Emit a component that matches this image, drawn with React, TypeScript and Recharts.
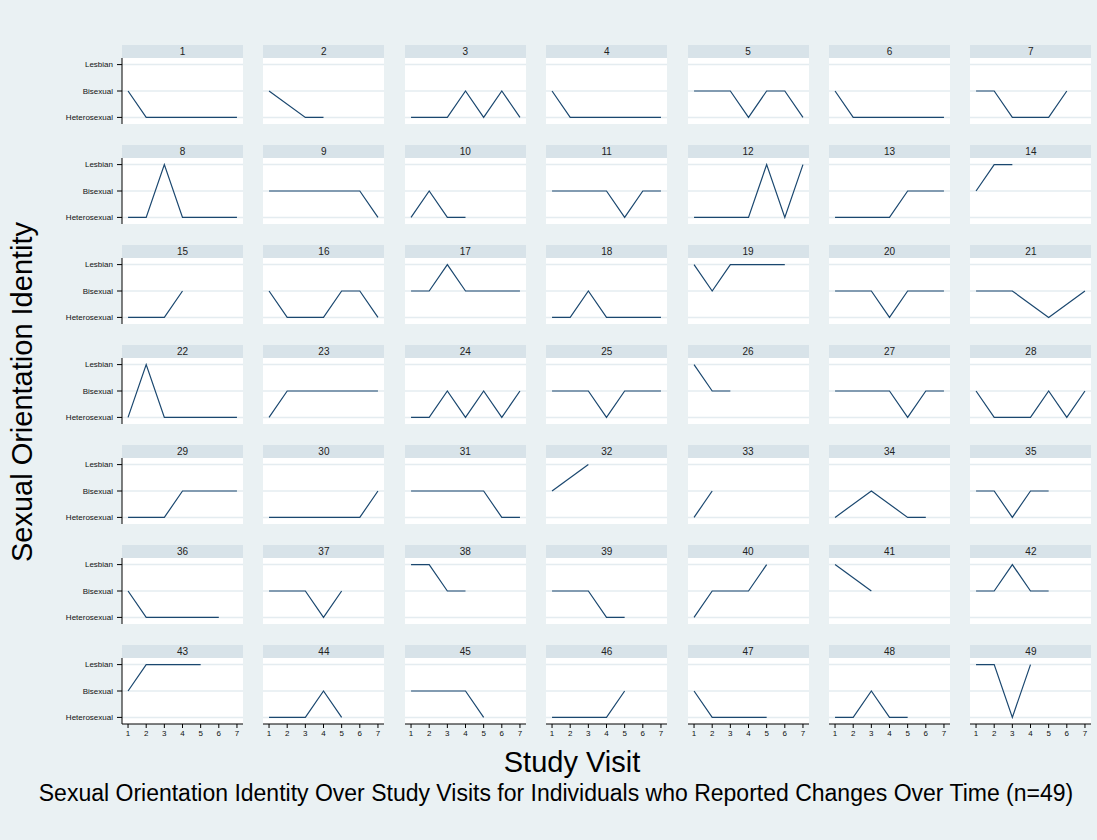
import React from 'react'
import { LineChart, Line, XAxis, YAxis, ReferenceLine } from 'recharts'

// identity coding: 1 = Heterosexual, 2 = Bisexual, 3 = Lesbian
const H = 1
const B = 2
const L = 3
const _ = null

const visits = [1, 2, 3, 4, 5, 6, 7]
const identityLevels = [1, 2, 3]
const identityLabels = ['Heterosexual', 'Bisexual', 'Lesbian']

// one row per individual, one entry per study visit (null = no visit)
const responses: (number | null)[][] = [
    [B, H, H, H, H, H, H],
    [B, _, H, H, _, _, _],
    [H, H, H, B, H, B, H],
    [B, H, H, H, H, H, H],
    [B, B, B, H, B, B, H],
    [B, H, H, H, H, H, H],
    [B, B, H, H, H, B, _],
    [H, H, L, H, H, H, H],
    [B, B, B, B, B, B, H],
    [H, B, H, H, _, _, _],
    [B, B, B, B, H, B, B],
    [H, H, H, H, L, H, L],
    [H, H, H, H, B, B, B],
    [B, L, L, _, _, _, _],
    [H, H, H, B, _, _, _],
    [B, H, H, H, B, B, H],
    [B, B, L, B, B, B, B],
    [H, H, B, H, H, H, H],
    [L, B, L, L, L, L, _],
    [B, B, B, H, B, B, B],
    [B, B, B, _, H, _, B],
    [H, L, H, H, H, H, H],
    [H, B, B, B, B, B, B],
    [H, H, B, H, B, H, B],
    [B, B, B, H, B, B, B],
    [L, B, B, _, _, _, _],
    [B, B, B, B, H, B, B],
    [B, H, H, H, B, H, B],
    [H, H, H, B, B, B, B],
    [H, H, H, H, H, H, B],
    [B, B, B, B, B, H, H],
    [B, _, L, _, _, _, _],
    [H, B, _, _, _, _, _],
    [H, _, B, _, H, H, _],
    [B, B, H, B, B, _, _],
    [B, H, H, H, H, H, _],
    [B, B, B, H, B, _, _],
    [L, L, B, B, _, _, _],
    [B, B, B, H, H, _, _],
    [H, B, B, B, L, _, _],
    [L, _, B, _, _, _, _],
    [B, B, L, B, B, _, _],
    [B, L, L, L, L, _, _],
    [H, H, H, B, H, _, _],
    [B, B, B, B, H, _, _],
    [H, H, H, H, B, _, _],
    [B, H, H, H, H, _, _],
    [H, H, B, H, H, _, _],
    [L, L, H, L, _, _, _],
]

const BG = '#eaf1f3'
const STRIP = '#d8e3e9'
const GRID = '#e4ecf0'
const LINE = '#1a476f'
const FONT = 'Arial, "Liberation Sans", sans-serif'

const COLS = 7
const PANEL_W = 121
const PLOT_H = 66
const STRIP_H = 13
const LEFT0 = 122
const TOP0 = 45
const COL_STEP = 141.4
const ROW_STEP = 100
const YAXIS_W = 70
const XAXIS_H = 20

function Panel({ index }: { index: number }) {
    const col = index % COLS
    const row = Math.floor(index / COLS)
    const left = LEFT0 + col * COL_STEP
    const top = TOP0 + row * ROW_STEP
    const showY = col === 0
    const showX = row === 6
    const data = visits.map((v, i) => ({ visit: v, value: responses[index][i] }))

    return (
        <>
            <div
                style={{
                    position: 'absolute',
                    left,
                    top,
                    width: PANEL_W,
                    height: STRIP_H,
                    background: STRIP,
                    fontSize: 10,
                    lineHeight: `${STRIP_H}px`,
                    textAlign: 'center',
                    color: '#222',
                }}
            >
                {index + 1}
            </div>
            <div
                style={{
                    position: 'absolute',
                    left,
                    top: top + STRIP_H,
                    width: PANEL_W,
                    height: PLOT_H,
                    background: '#fff',
                }}
            />
            <div
                style={{
                    position: 'absolute',
                    left: left - (showY ? YAXIS_W : 0),
                    top: top + STRIP_H,
                }}
            >
                <LineChart
                    width={PANEL_W + (showY ? YAXIS_W : 0)}
                    height={PLOT_H + (showX ? XAXIS_H : 0)}
                    data={data}
                    margin={{ top: 0, right: 0, bottom: 0, left: 0 }}
                >
                    <XAxis
                        dataKey="visit"
                        type="number"
                        domain={[0.667, 7.333]}
                        ticks={visits}
                        hide={!showX}
                        height={XAXIS_H}
                        axisLine={{ stroke: '#000' }}
                        tickLine={{ stroke: '#000' }}
                        tickSize={4}
                        tick={{ fontSize: 8, fill: '#111', fontFamily: FONT }}
                    />
                    <YAxis
                        type="number"
                        domain={[0.75, 3.25]}
                        ticks={identityLevels}
                        hide={!showY}
                        width={YAXIS_W}
                        axisLine={{ stroke: '#000' }}
                        tickLine={{ stroke: '#000' }}
                        tickSize={5}
                        tickMargin={4}
                        tickFormatter={(v: number) => identityLabels[v - 1]}
                        tick={{ fontSize: 8, fill: '#111', fontFamily: FONT }}
                    />
                    {identityLevels.map((lv) => (
                        <ReferenceLine key={lv} y={lv} stroke={GRID} strokeWidth={1.5} />
                    ))}
                    <Line
                        type="linear"
                        dataKey="value"
                        stroke={LINE}
                        strokeWidth={1.2}
                        dot={false}
                        connectNulls
                        isAnimationActive={false}
                    />
                </LineChart>
            </div>
        </>
    )
}

export default function App() {
    return (
        <div
            style={{
                position: 'absolute',
                left: 0,
                top: 0,
                width: 1097,
                height: 840,
                background: BG,
                fontFamily: FONT,
                overflow: 'hidden',
            }}
        >
            {responses.map((_r, i) => (
                <Panel key={i} index={i} />
            ))}
            <div
                style={{
                    position: 'absolute',
                    left: 22,
                    top: 392,
                    transform: 'translate(-50%, -50%) rotate(-90deg)',
                    whiteSpace: 'nowrap',
                    fontSize: 29,
                    color: '#000',
                }}
            >
                Sexual Orientation Identity
            </div>
            <div
                style={{
                    position: 'absolute',
                    left: 572,
                    top: 762,
                    transform: 'translate(-50%, -50%)',
                    whiteSpace: 'nowrap',
                    fontSize: 29,
                    color: '#000',
                }}
            >
                Study Visit
            </div>
            <div
                style={{
                    position: 'absolute',
                    left: 556,
                    top: 793,
                    transform: 'translate(-50%, -50%)',
                    whiteSpace: 'nowrap',
                    fontSize: 23,
                    color: '#000',
                }}
            >
                Sexual Orientation Identity Over Study Visits for Individuals who Reported Changes Over Time (n=49)
            </div>
        </div>
    )
}
